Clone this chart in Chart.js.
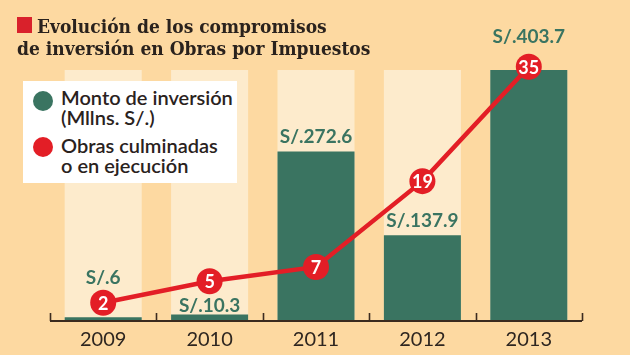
<!DOCTYPE html>
<html>
<head>
<meta charset="utf-8">
<script src="https://cdn.jsdelivr.net/npm/chart.js@4"></script>
<style>
  html,body{margin:0;padding:0;background:#fdd9a1;}
  #wrap{position:relative;width:630px;height:355px;overflow:hidden;background:#fdd9a1;}
  #c{position:absolute;left:0;top:0;}
  .t{position:absolute;font-family:"DejaVu Serif";font-weight:bold;font-stretch:condensed;font-size:19px;line-height:22px;color:#2a221d;white-space:nowrap;}
  #sq{position:absolute;left:17px;top:17px;width:15px;height:16px;background:#d9212b;}
  #leg{position:absolute;left:23px;top:81px;width:214px;height:102px;background:#ffffff;}
  .dot{position:absolute;width:20px;height:20px;border-radius:50%;}
  .lt{position:absolute;left:38px;font-family:Lato;font-weight:600;font-size:20px;line-height:20px;color:#2a221d;white-space:nowrap;}
</style>
</head>
<body>
<div id="wrap">
  <canvas id="c" width="630" height="355"></canvas>
  <div id="sq"></div>
  <div class="t" id="t1" style="left:37px;top:15px;"></div>
  <div class="t" id="t2" style="left:17px;top:37px;"></div>
  <div id="leg">
    <div class="dot" style="left:10px;top:10px;background:#3a7461;"></div>
    <div class="lt" id="l1" style="top:6px;"></div>
    <div class="dot" style="left:10px;top:56px;background:#e31e26;"></div>
    <div class="lt" id="l2" style="top:54px;"></div>
  </div>
</div>
<script>
// ---- data ----
const titleLines = ["Evolución de los compromisos", "de inversión en Obras por Impuestos"];
const categories = ["2009", "2010", "2011", "2012", "2013"];
const montoInversion = [6, 10.3, 272.6, 137.9, 403.7];          // Mllns. S/.
const obrasCulminadas = [2, 5, 7, 19, 35];
const montoLabels = ["S/.6", "S/.10.3", "S/.272.6", "S/.137.9", "S/.403.7"];
const legendMonto = ["Monto de inversión", "(Mllns. S/.)"];
const legendObras = ["Obras culminadas", "o en ejecución"];
const montoAxisMax = 403.7;
const obrasAxisMin = -0.56;
const obrasAxisMax = 34.54;

document.getElementById('t1').textContent = titleLines[0];
document.getElementById('t2').textContent = titleLines[1];
document.getElementById('l1').innerHTML = legendMonto.join('<br>');
document.getElementById('l2').innerHTML = legendObras.join('<br>');

const GREEN = '#3a7461', RED = '#e31e26', PALE = '#fdebcc', DARK = '#2e2620';

function catBounds(x, i) {
  const c = x.getPixelForValue(i);
  const w = (x.right - x.left) / categories.length;
  return [c - w / 2, c + w / 2];
}

const bgColumns = {
  id: 'bgColumns',
  beforeDatasetsDraw(chart) {
    const {ctx, chartArea} = chart;
    const meta = chart.getDatasetMeta(0);
    ctx.save();
    ctx.fillStyle = PALE;
    meta.data.forEach((bar) => {
      const w = bar.width;
      ctx.fillRect(bar.x - w / 2, chartArea.top, w, chartArea.bottom - chartArea.top);
    });
    ctx.restore();
  }
};

const axisAndLabels = {
  id: 'axisAndLabels',
  afterDatasetsDraw(chart, args, opts) {
    const {ctx, chartArea, scales: {x}} = chart;
    ctx.save();
    // axis line + upward ticks
    ctx.strokeStyle = '#3b2b1f';
    ctx.lineWidth = 2;
    ctx.beginPath();
    ctx.moveTo(chartArea.left, chartArea.bottom);
    ctx.lineTo(chartArea.right, chartArea.bottom);
    ctx.stroke();
    ctx.lineWidth = 1.6;
    for (let i = 0; i <= categories.length; i++) {
      const px = i < categories.length ? catBounds(x, i)[0] : catBounds(x, i - 1)[1];
      const xx = Math.round(px) + 0.5;
      ctx.beginPath();
      ctx.moveTo(xx, chartArea.bottom);
      ctx.lineTo(xx, chartArea.bottom - 8);
      ctx.stroke();
    }
    // category labels
    ctx.fillStyle = DARK;
    ctx.font = '20px Lato';
    ctx.textAlign = 'center';
    ctx.textBaseline = 'middle';
    categories.forEach((c, i) => {
      ctx.fillText(c, x.getPixelForValue(i), chartArea.bottom + 19);
    });
    // bar value labels
    ctx.fillStyle = GREEN;
    ctx.font = 'bold 19px Lato';
    const bars = chart.getDatasetMeta(0).data;
    bars.forEach((bar, i) => {
      ctx.fillText(montoLabels[i], bar.x, bar.y - opts.lift[i]);
    });
    // point labels
    ctx.fillStyle = '#ffffff';
    ctx.font = 'bold 18px Lato';
    const pts = chart.getDatasetMeta(1).data;
    pts.forEach((p, i) => {
      ctx.fillText(String(obrasCulminadas[i]), p.x, p.y + 1);
    });
    ctx.restore();
  }
};

new Chart(document.getElementById('c'), {
  data: {
    labels: categories,
    datasets: [
      {
        type: 'bar',
        label: legendMonto.join(' '),
        data: montoInversion,
        backgroundColor: GREEN,
        borderWidth: 0,
        barPercentage: 0.724,
        categoryPercentage: 1,
        yAxisID: 'y',
        order: 2
      },
      {
        type: 'line',
        label: legendObras.join(' '),
        data: obrasCulminadas,
        borderColor: RED,
        borderWidth: 4.5,
        backgroundColor: RED,
        pointBackgroundColor: RED,
        pointBorderWidth: 0,
        pointRadius: 13,
        tension: 0,
        clip: false,
        yAxisID: 'y2',
        order: 1
      }
    ]
  },
  options: {
    responsive: false,
    animation: false,
    devicePixelRatio: 1,
    layout: { padding: { left: 50, right: 48, top: 70, bottom: 4 } },
    plugins: {
      legend: { display: false },
      tooltip: { enabled: false },
      axisAndLabels: { lift: [39, 9, 15, 14, 33] }
    },
    scales: {
      x: {
        offset: true,
        grid: { display: false },
        border: { display: false },
        ticks: { display: false },
        afterFit(scale) { scale.height = 30; }
      },
      y: { display: false, min: 0, max: montoAxisMax },
      y2: { display: false, min: obrasAxisMin, max: obrasAxisMax }
    }
  },
  plugins: [bgColumns, axisAndLabels]
});
</script>
</body>
</html>
